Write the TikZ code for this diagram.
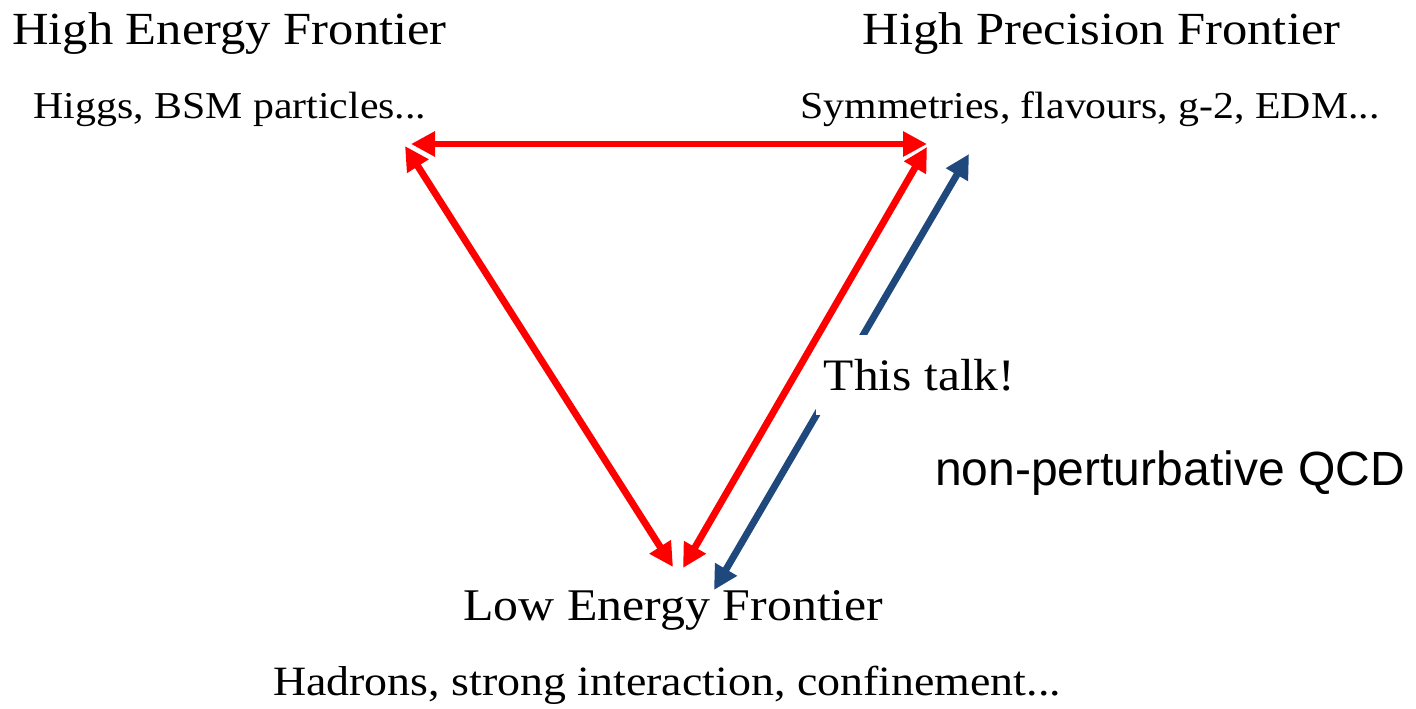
\documentclass[tikz,border=0pt]{standalone}
\usepackage{fontspec}
\setmainfont{Liberation Serif}[FakeStretch=1.1]
\newfontfamily\npfont{Liberation Sans}
\usetikzlibrary{arrows.meta}
\definecolor{arrred}{RGB}{255,0,0}
\definecolor{arrblue}{RGB}{31,72,124}
\tikzset{
  biarrow/.style={line width=5.2pt, {Triangle[length=18pt,width=18pt]}-{Triangle[length=18pt,width=18pt]}},
  redarrow/.style={biarrow, draw=arrred, fill=arrred},
  bluearrow/.style={biarrow, draw=arrblue, fill=arrblue},
  lbl/.style={anchor=base, inner sep=0pt, text=black},
  title/.style={lbl, font=\fontsize{34.5}{40}\selectfont},
  sub/.style={lbl, font=\fontsize{28.5}{34}\selectfont},
}
\begin{document}
\begin{tikzpicture}[x=0.75pt,y=-0.75pt]
\useasboundingbox (0,0) rectangle (1416,708);
% arrow end points
\coordinate (tlh) at (411,144);
\coordinate (trh) at (927,144);
\coordinate (tld) at (405,146);
\coordinate (bld) at (673,567);
\coordinate (trd) at (927,147);
\coordinate (brd) at (683,568);
\coordinate (btop) at (969,154);
\coordinate (bbot) at (714,590);
% blue arrow, interrupted by the label
\draw[bluearrow] (bbot) -- (btop);
\node[lbl, font=\fontsize{33.75}{40}\selectfont, fill=white, inner xsep=6pt, inner ysep=18pt] (talk) at (919.5,390) {This talk!};
% red triangle of arrows
\draw[redarrow] (tlh) -- (trh);
\draw[redarrow] (tld) -- (bld);
\draw[redarrow] (trd) -- (brd);
% labels
\node[title] (hef) at (229.5,44) {High Energy Frontier};
\node[sub] (higgs) at (230,118) {Higgs, BSM particles...};
\node[title] (hpf) at (1101.5,44) {High Precision Frontier};
\node[sub] (sym) at (1090,118) {Symmetries, flavours, g-2, EDM...};
\node[lbl, font=\npfont\fontsize{36}{42}\selectfont] (qcd) at (1170,485) {non-perturbative QCD};
\node[lbl, font=\fontsize{34}{40}\selectfont] (lef) at (673.5,620) {Low Energy Frontier};
\node[lbl, font=\fontsize{31.3}{37}\selectfont] (had) at (667,695) {Hadrons, strong interaction, confinement...};
\end{tikzpicture}
\end{document}
